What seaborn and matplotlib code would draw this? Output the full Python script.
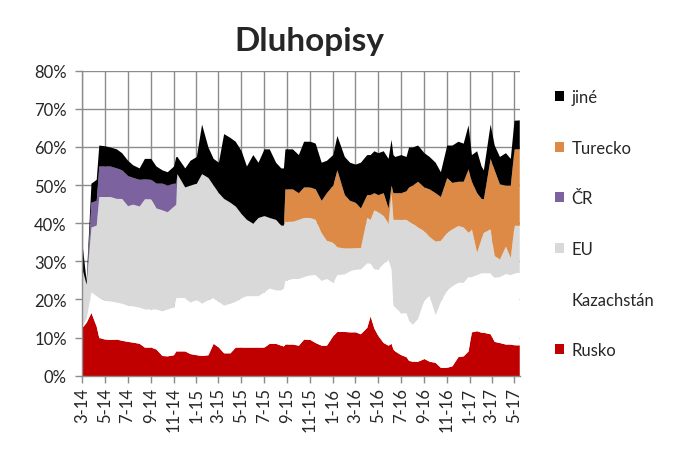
import matplotlib
matplotlib.use("Agg")
import matplotlib.pyplot as plt
from matplotlib.patches import Patch
import seaborn as sns
import pandas as pd

dates = ["2014-03-01", "2014-03-12", "2014-03-25", "2014-04-08", "2014-04-15", "2014-05-01",
         "2014-05-15", "2014-06-01", "2014-06-15", "2014-07-01", "2014-07-15", "2014-08-01",
         "2014-08-15", "2014-09-01", "2014-09-15", "2014-10-01", "2014-10-15", "2014-11-01",
         "2014-11-07", "2014-11-10", "2014-12-01", "2014-12-15", "2015-01-01", "2015-01-15",
         "2015-02-01", "2015-02-15", "2015-03-01", "2015-03-15", "2015-04-01", "2015-04-15",
         "2015-05-01", "2015-05-15", "2015-06-01", "2015-06-15", "2015-07-01", "2015-07-15",
         "2015-08-01", "2015-08-15", "2015-08-22", "2015-08-26", "2015-09-15", "2015-10-01",
         "2015-10-15", "2015-11-01", "2015-11-15", "2015-12-01", "2015-12-15", "2016-01-01",
         "2016-01-12", "2016-02-01", "2016-02-15", "2016-03-01", "2016-03-15", "2016-04-01",
         "2016-04-10", "2016-04-20", "2016-05-01", "2016-05-15", "2016-05-28", "2016-06-05",
         "2016-06-10", "2016-06-15", "2016-07-01", "2016-07-15", "2016-07-22", "2016-08-01",
         "2016-08-15", "2016-09-01", "2016-09-15", "2016-10-01", "2016-10-15", "2016-11-01",
         "2016-11-15", "2016-12-01", "2016-12-15", "2016-12-28", "2017-01-06", "2017-01-20",
         "2017-02-01", "2017-02-07", "2017-02-25", "2017-03-08", "2017-03-22", "2017-04-07",
         "2017-04-20", "2017-04-30", "2017-05-14"]

rusko = [12.7, 14, 16.6, 13, 10, 9.6, 9.5, 9.6, 9.3, 9, 8.8, 8.5,
         7.5, 7.5, 7, 5.3, 5.2, 5.5, 6.5, 6.5, 6.5, 5.8, 5.5, 5.3,
         5.5, 8.5, 7.5, 6, 6, 7.5, 7.5, 7.5, 7.5, 7.5, 7.5, 8.5,
         8.5, 8, 7.8, 8.3, 8.3, 8, 9.6, 9.5, 8.7, 8, 8, 10.5,
         11.6, 11.6, 11.5, 11.5, 11, 12.7, 15.7, 12.5, 10.5, 8.7, 8, 8.5,
         7, 6.5, 5.5, 5, 4, 3.8, 3.8, 4.5, 3.8, 3.5, 2.2, 2.2,
         2.6, 5, 5.2, 6.5, 11.5, 11.8, 11.4, 11.4, 11, 9, 8.7, 8.3,
         8.3, 8.1, 8.1]
kazachstan = [0.4, 1, 5.4, 8, 10.5, 10.2, 10.1, 9.7, 9.7, 9.5, 9.5, 9.5,
              10, 10, 10.5, 11.7, 12.3, 12.5, 14, 14, 14, 13.5, 14.5, 13.7,
              14.5, 12, 12, 12.5, 13, 12, 13, 13.5, 13.5, 13.5, 14.5, 14.5,
              14, 14.5, 15.2, 16.7, 17.2, 17.5, 16.4, 17, 17.8, 17, 17.5, 14,
              14.9, 15.1, 16, 16.5, 17, 16.9, 13.8, 15.5, 17.5, 20.8, 22.5, 19.5,
              11.5, 11.5, 11, 11.5, 10.5, 9.7, 11.2, 15.5, 17.2, 12.5, 17.3, 20.3,
              21, 19.5, 19.3, 19.5, 14.5, 14.7, 15.6, 15.6, 16, 16.8, 17.3, 18.5,
              18.2, 18.9, 19]
eu = [14.9, 9, 17, 18.5, 26.5, 27.2, 27.4, 27.2, 27.5, 26.1, 26.7, 26.5,
      28.9, 28.9, 26.5, 26.5, 25.5, 26.5, 24.5, 32.5, 29, 30.7, 30.5, 34,
      32, 29.5, 28.5, 28, 26.5, 25, 22, 20, 19, 20.5, 20, 18.5,
      18.5, 17, 16.5, 15.5, 15, 15.5, 15.5, 15, 14.5, 12.5, 10, 10.5,
      7.3, 6.8, 6, 5.6, 5.6, 11.9, 11.5, 15.5, 15, 12.5, 9.5, 20,
      22.5, 23, 24.5, 24.5, 26, 26.5, 24, 18, 15.5, 19.3, 16, 15.1,
      14.9, 14.9, 14.5, 11.6, 12.5, 5.9, 9, 10.6, 11.5, 5.7, 4.6, 7.2,
      4.5, 12.5, 12.3]
cr = [0, 0, 6.5, 6.5, 8, 8, 8, 8, 7.5, 7.9, 7, 7,
      5.2, 5.1, 6.5, 7, 7, 6, 5.5, 0, 0, 0, 0, 0,
      0, 0, 0, 0, 0, 0, 0, 0, 0, 0, 0, 0,
      0, 0, 0, 0, 0, 0, 0, 0, 0, 0, 0, 0,
      0, 0, 0, 0, 0, 0, 0, 0, 0, 0, 0, 0,
      0, 0, 0, 0, 0, 0, 0, 0, 0, 0, 0, 0,
      0, 0, 0, 0, 0, 0, 0, 0, 0, 0, 0, 0,
      0, 0, 0]
turecko = [0, 0, 0, 0, 0, 0, 0, 0, 0, 0, 0, 0,
           0, 0, 0, 0, 0, 0, 0, 0, 0, 0, 0, 0,
           0, 0, 0, 0, 0, 0, 0, 0, 0, 0, 0, 0,
           0, 0, 0, 8.5, 8.5, 7, 8, 8, 8, 8.5, 12.5, 15,
           20.2, 14, 12.5, 11.9, 10.4, 6, 6.5, 4.5, 4.5, 6, 4, 2,
           7, 7, 7, 7.5, 9, 10, 12, 11.5, 12.5, 12.7, 11.5, 14.4,
           12.2, 11.6, 12, 16.6, 12.5, 15.6, 10.5, 8.8, 18.5, 22.5, 19.7, 16,
           19, 20, 20.1]
jine = [6.6, 1, 5, 5.5, 5.5, 5.3, 5, 5, 4.5, 4, 3.3, 3,
        5.4, 5.5, 4.5, 3.5, 3.5, 4.5, 7, 4.5, 5, 6.5, 7, 13,
        8, 7, 8, 17, 17, 17, 16.5, 14, 18, 14.5, 17.5, 18,
        15, 15, 15, 10.5, 10.5, 10, 12, 12, 12, 10, 8.5, 8,
        9, 10, 10, 10, 12, 10.5, 10.5, 11, 11, 11, 13, 12,
        10, 9.5, 10, 9, 10.5, 10, 9.5, 9, 8.5, 8, 6.5, 8.5,
        9.8, 10.5, 10, 11.6, 7, 11, 8.5, 7.6, 9, 6.5, 7.2, 8.5,
        7, 7.5, 7.6]

series_names = ["Rusko", "Kazachstán", "EU", "ČR", "Turecko", "jiné"]
series_colors = ["#C00000", "#FFFFFF", "#D9D9D9", "#7D62A0", "#DC8A45", "#000000"]
y_ticks = [0, 10, 20, 30, 40, 50, 60, 70, 80]

df = pd.DataFrame({"datum": pd.to_datetime(dates), "Rusko": rusko, "Kazachstán": kazachstan,
                   "EU": eu, "ČR": cr, "Turecko": turecko, "jiné": jine})

sns.set_style("white")
plt.rcParams["font.family"] = ["Lato", "DejaVu Sans"]

fig = plt.figure(figsize=(6.75, 4.6), dpi=100)
ax = fig.add_axes([82 / 675, 1 - 376.7 / 460, (520 - 82) / 675, (376.7 - 71.7) / 460])

ax.stackplot(df["datum"], *[df[n] for n in series_names], colors=series_colors,
             labels=series_names, linewidth=0, zorder=2)

ax.set_ylim(0, 80)
ax.set_yticks(y_ticks)
ax.set_yticklabels([f"{v}%" for v in y_ticks], fontsize=12)

xticks = pd.date_range("2014-03-01", "2017-05-01", freq="2MS")
ax.set_xticks(xticks)
ax.set_xticklabels([f"{d.month}-{d.strftime('%y')}" for d in xticks], rotation=90, fontsize=12)
ax.set_xlim(pd.Timestamp("2014-03-01"), pd.Timestamp("2017-05-16"))

ax.grid(True, color="#8C8C8C", linewidth=1.0, zorder=0)
ax.set_axisbelow(True)
for s in ["top", "right"]:
    ax.spines[s].set_visible(False)
for s in ["left", "bottom"]:
    ax.spines[s].set_color("#8C8C8C")
    ax.spines[s].set_linewidth(1.0)
ax.tick_params(axis="both", direction="out", length=5, width=1, color="#8C8C8C",
               left=True, bottom=True)
ax.tick_params(axis="y", pad=6)
ax.tick_params(axis="x", pad=3)

handles = [Patch(facecolor=c, edgecolor="none") for c in series_colors]
leg = fig.legend(handles[::-1], series_names[::-1], loc="upper left",
                 bbox_to_anchor=(540 / 675, 1 - 75 / 460), frameon=False, fontsize=12,
                 handlelength=0.55, handleheight=0.55, handletextpad=0.45, labelspacing=2.08)

fig.text(309 / 675, 1 - 41 / 460, "Dluhopisy", ha="center", va="center",
         fontsize=24, fontweight="bold")

fig.savefig("out.png", dpi=100)
